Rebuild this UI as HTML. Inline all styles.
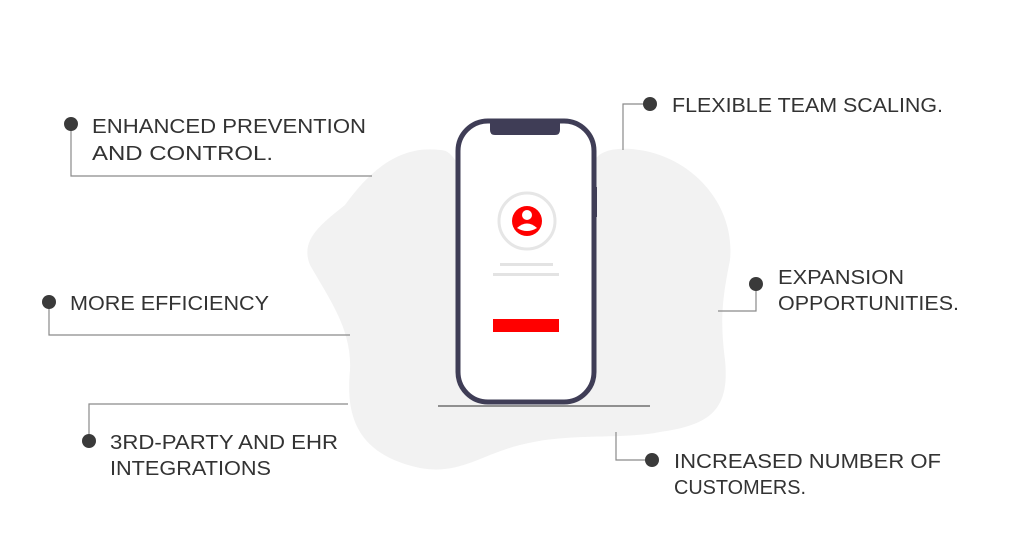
<html><body style="margin:0;background:#fff">
<svg width="1024" height="551" xmlns="http://www.w3.org/2000/svg" style="display:block;font-family:'Liberation Sans',sans-serif">
<rect width="1024" height="551" fill="#fff"/>
<path d="M440,150 C400,145 370,170 345,205 C320,225 300,240 310,265 C330,300 352,330 350,370 C345,420 360,455 420,468 C460,475 480,455 520,445 C570,432 620,440 660,432 C710,425 730,410 725,360 C720,320 722,300 730,260 C735,210 700,165 650,152 C620,145 600,150 595,160 L455,160 C450,152 445,150 440,150 Z" fill="#f2f2f2"/>
<g stroke="#8a8a8a" stroke-width="1.2" fill="none">
<polyline points="71,124 71,176 372,176"/>
<polyline points="49,302 49,335 350,335"/>
<polyline points="89,441 89,404 348,404"/>
<polyline points="650,104 623,104 623,150"/>
<polyline points="756,284 756,311 718,311"/>
<polyline points="652,460 616,460 616,432"/>
<line x1="438" y1="406" x2="650" y2="406" stroke="#555"/>
</g>
<g fill="#3a3a3a">
<circle cx="71" cy="124" r="7"/><circle cx="49" cy="302" r="7"/><circle cx="89" cy="441" r="7"/>
<circle cx="650" cy="104" r="7"/><circle cx="756" cy="284" r="7"/><circle cx="652" cy="460" r="7"/>
</g>
<rect x="458" y="121" width="136" height="281" rx="30" fill="#fff" stroke="#3f3d56" stroke-width="5"/>
<path d="M490,121 L560,121 L560,130 Q560,135 555,135 L495,135 Q490,135 490,130 Z" fill="#3f3d56"/>
<rect x="593" y="187" width="4" height="30" fill="#3f3d56"/>
<circle cx="527" cy="221" r="28" fill="none" stroke="#e6e6e6" stroke-width="3"/>
<circle cx="527" cy="221" r="15" fill="#f00"/>
<circle cx="527" cy="215" r="5" fill="#fff"/>
<path d="M517,228 Q527,219 537,228 Q527,234 517,228Z" fill="#fff"/>
<rect x="500" y="263" width="53" height="3" fill="#e3e3e3"/>
<rect x="493" y="273" width="66" height="3" fill="#e3e3e3"/>
<rect x="493" y="319" width="66" height="13" fill="#f00"/>
<g fill="#333" font-size="20" lengthAdjust="spacingAndGlyphs">
<text x="92" y="133" textLength="274" lengthAdjust="spacingAndGlyphs">ENHANCED PREVENTION</text><text x="92" y="160" textLength="181" lengthAdjust="spacingAndGlyphs">AND CONTROL.</text>
<text x="70" y="310" textLength="199" lengthAdjust="spacingAndGlyphs">MORE EFFICIENCY</text>
<text x="110" y="449" textLength="228" lengthAdjust="spacingAndGlyphs">3RD-PARTY AND EHR</text><text x="110" y="475" textLength="161" lengthAdjust="spacingAndGlyphs">INTEGRATIONS</text>
<text x="672" y="112" textLength="271" lengthAdjust="spacingAndGlyphs">FLEXIBLE TEAM SCALING.</text>
<text x="778" y="284" textLength="126" lengthAdjust="spacingAndGlyphs">EXPANSION</text><text x="778" y="310" textLength="181" lengthAdjust="spacingAndGlyphs">OPPORTUNITIES.</text>
<text x="674" y="468" textLength="267" lengthAdjust="spacingAndGlyphs">INCREASED NUMBER OF</text><text x="674" y="494" textLength="132" lengthAdjust="spacingAndGlyphs">CUSTOMERS.</text>
</g>
</svg>
</body></html>
